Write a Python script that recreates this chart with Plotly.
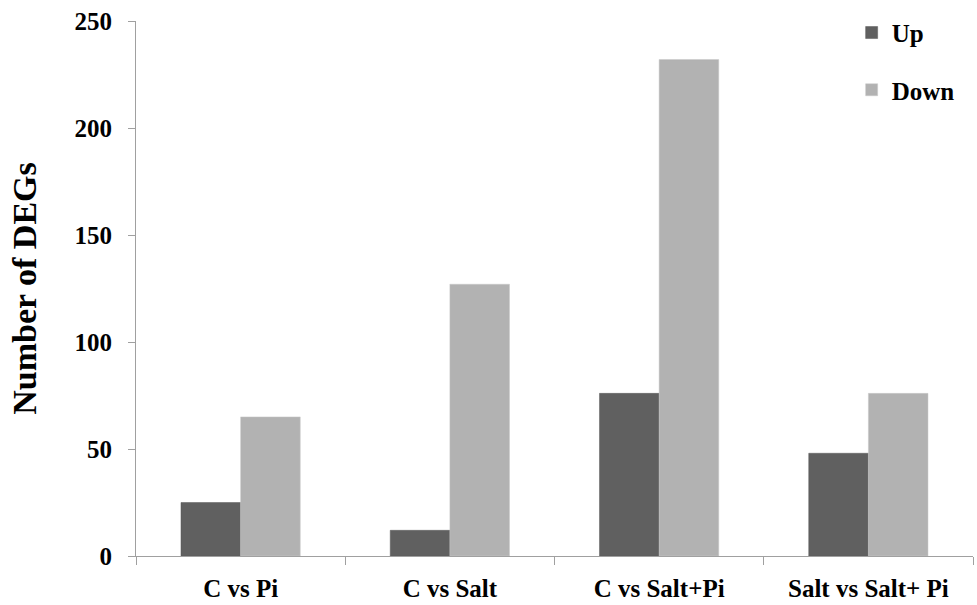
import plotly.graph_objects as go

categories = ["C vs Pi", "C vs Salt", "C vs Salt+Pi", "Salt vs Salt+ Pi"]
up_values = [25, 12, 76, 48]
down_values = [65, 127, 232, 76]
y_ticks = [0, 50, 100, 150, 200, 250]

FONT = "Liberation Serif"
AXIS_COLOR = "#a0a0a0"

fig = go.Figure()
fig.add_trace(go.Bar(x=categories, y=up_values, name="<b>Up</b>",
                     marker=dict(color="#606060", line=dict(color="#5a5a5a", width=0.5)),
                     legend="legend", showlegend=True))
fig.add_trace(go.Bar(x=categories, y=down_values, name="<b>Down</b>",
                     marker=dict(color="#b2b2b2", line=dict(color="#c8c8c8", width=0.5)),
                     legend="legend2", showlegend=True))

fig.update_layout(
    width=977, height=605,
    showlegend=True,
    margin=dict(l=136, r=4, t=21, b=49),
    paper_bgcolor="white", plot_bgcolor="white",
    barmode="group", bargap=0.43, bargroupgap=0,
    font=dict(family=FONT, color="black"),
    legend=dict(x=0.855, y=0.978, xanchor="left", yanchor="middle", visible=True,
                font=dict(size=25, family=FONT), bgcolor="rgba(0,0,0,0)"),
    legend2=dict(x=0.855, y=0.871, xanchor="left", yanchor="middle", visible=True,
                 font=dict(size=25, family=FONT), bgcolor="rgba(0,0,0,0)"),
)

fig.update_xaxes(
    showline=True, linecolor=AXIS_COLOR, linewidth=1,
    ticks="outside", tickson="boundaries", ticklen=8, tickcolor=AXIS_COLOR,
    tickfont=dict(size=25, family=FONT),
    ticktext=[f"<b>{c}</b>" for c in categories], tickvals=categories,
    ticklabelstandoff=10, showgrid=False, automargin=False,
)
fig.update_yaxes(
    range=[0, 250], tickvals=y_ticks, ticktext=[f"<b>{v}</b>" for v in y_ticks],
    showline=True, linecolor=AXIS_COLOR, linewidth=1,
    ticks="outside", ticklen=7, tickcolor=AXIS_COLOR,
    tickfont=dict(size=25, family=FONT), ticklabelstandoff=11,
    showgrid=False, zeroline=False, automargin=False,
    title=dict(text="<b>Number of DEGs</b>", font=dict(size=34, family=FONT), standoff=27),
)

fig.write_html("out.html", config={"displayModeBar": False},
               post_script="document.body.style.margin='0';")
